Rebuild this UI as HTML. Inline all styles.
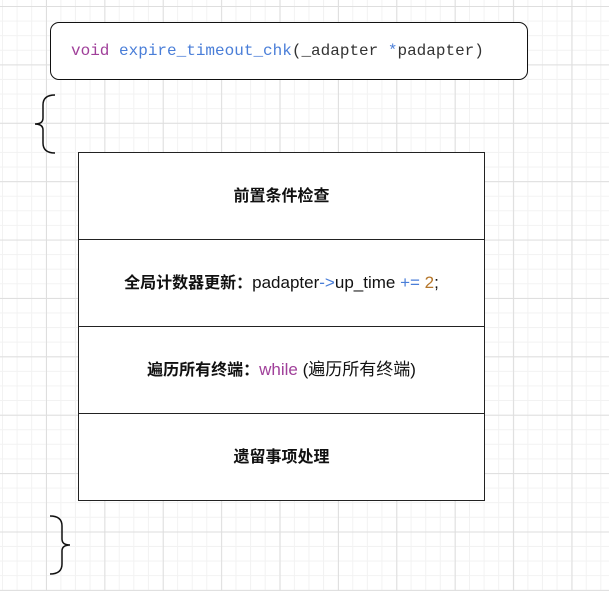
<!DOCTYPE html><html><head><meta charset="utf-8"><style>
body{margin:0;width:609px;height:591px;position:relative;overflow:hidden;background:#fff;
background-image:linear-gradient(#dedede 1px,transparent 1px),linear-gradient(90deg,#dedede 1px,transparent 1px),linear-gradient(#f2f2f2 1px,transparent 1px),linear-gradient(90deg,#f2f2f2 1px,transparent 1px);
background-size:58.4px 58.4px,58.4px 58.4px,14.6px 14.6px,14.6px 14.6px;
background-position:0 6px,46px 0,0 6px,2px 0;
font-family:"Liberation Sans","Noto Sans CJK SC",sans-serif}
.fn{position:absolute;left:50px;top:22px;width:478px;height:58px;border:1.5px solid #111;border-radius:9px;background:#fff;font-family:"Liberation Mono",monospace;font-size:16px;line-height:56px;padding-left:20px;box-sizing:border-box;color:#333}
.tb{position:absolute;left:78px;top:152px;width:407px;height:349px;border:1.5px solid #222;box-sizing:border-box;background:#fff}
.r{height:87px;border-bottom:1.5px solid #222;box-sizing:border-box;line-height:85px;text-align:center;font-size:17px;color:#111;white-space:nowrap}
.r:last-child{border-bottom:none}
b{font-weight:bold;font-size:16px}
</style></head><body>
<div class="fn"><span style="color:#a0409a">void</span> <span style="color:#4a7ed8">expire_timeout_chk</span>(_adapter <span style="color:#4a7ed8">*</span>padapter)</div>
<svg style="position:absolute;left:0;top:0" width="609" height="591">
<path d="M55 95 Q43 95 43 105 L43 118 Q43 124 35 124 Q43 124 43 130 L43 143 Q43 153 55 153" fill="none" stroke="#111" stroke-width="1.5"/>
<path d="M50 516 Q62 516 62 526 L62 539 Q62 545 70 545 Q62 545 62 551 L62 564 Q62 574 50 574" fill="none" stroke="#111" stroke-width="1.5"/>
</svg>
<div class="tb">
<div class="r"><b>前置条件检查</b></div>
<div class="r"><span><b>全局计数器更新：</b>padapter<span style="color:#4a7ed8">-&gt;</span>up_time <span style="color:#4a7ed8">+=</span> <span style="color:#b5762a">2</span>;</span></div>
<div class="r"><span><b>遍历所有终端：</b><span style="color:#a0409a">while</span> (遍历所有终端)</span></div>
<div class="r"><b>遗留事项处理</b></div>
</div>
</body></html>
